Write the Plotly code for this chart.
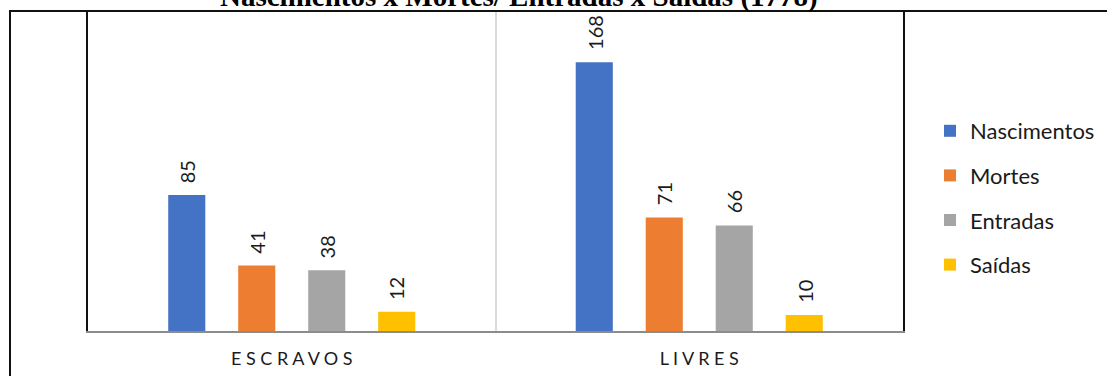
import plotly.graph_objects as go

# Population groups and event counts for 1778
groups = ["ESCRAVOS", "LIVRES"]
series_names = ["Nascimentos", "Mortes", "Entradas", "Saídas"]
nascimentos = [85, 168]
mortes = [41, 71]
entradas = [38, 66]
saidas = [12, 10]
series_values = [nascimentos, mortes, entradas, saidas]
colors = ["#4472C4", "#ED7D31", "#A5A5A5", "#FFC000"]
group_ticks = ["E S C R A V O S", "L I V R E S"]
title_text = "Nascimentos x Mortes/ Entradas x Saídas (1778)"

W, H = 1107, 376
L, R, T, B = 88, 204, 11, 45
BARGAP = 0.313
plot_w = W - L - R
plot_h = H - T - B

def px_x(p):
    return (p - L) / plot_w

def px_y(p):
    return (H - B - p) / plot_h

fig = go.Figure()
for i, (name, vals, col) in enumerate(zip(series_names, series_values, colors)):
    fig.add_trace(go.Bar(
        name=name, x=groups, y=vals, marker=dict(color=col, line=dict(width=0)),
        legendgroup=name, hoverinfo="x+y+name",
    ))

# Value labels, rotated, above each bar
slot = (1 - BARGAP) / len(series_names)
for i, vals in enumerate(series_values):
    for g, v in enumerate(vals):
        fig.add_annotation(
            x=g + (i - (len(series_names) - 1) / 2) * slot, y=v, xref="x", yref="y",
            text=str(v), textangle=-90, showarrow=False,
            yanchor="bottom", xanchor="center", yshift=10,
            font=dict(family="Lato", size=20, color="#1a1a1a"),
        )

# Title (sits above the frame, partly outside the page)
fig.add_annotation(
    x=px_x(519), y=px_y(15), xref="paper", yref="paper",
    text="<b>" + title_text + "</b>", showarrow=False,
    xanchor="center", yanchor="bottom",
    font=dict(family="Liberation Serif", size=29, color="#000000"),
)

# Outer frame lines
fig.add_shape(type="line", xref="paper", yref="paper",
              x0=px_x(9), x1=px_x(W + 5), y0=1, y1=1,
              line=dict(color="#111111", width=2))
fig.add_shape(type="line", xref="paper", yref="paper",
              x0=px_x(10), x1=px_x(10), y0=1, y1=px_y(H + 5),
              line=dict(color="#111111", width=2))

fig.update_layout(
    width=W, height=H,
    margin=dict(l=L, r=R, t=T, b=B, pad=0, autoexpand=False),
    paper_bgcolor="white", plot_bgcolor="white",
    barmode="group", bargap=BARGAP, bargroupgap=0.47,
    showlegend=True,
    legend=dict(
        x=px_x(930), y=px_y(110), xanchor="left", yanchor="top",
        font=dict(family="Lato", size=22, color="#1a1a1a"),
        traceorder="grouped", tracegroupgap=13,
        bgcolor="rgba(0,0,0,0)",
    ),
    xaxis=dict(
        tickmode="array", tickvals=groups, ticktext=group_ticks,
        tickson="boundaries", ticks="", showgrid=True,
        gridcolor="#d9d9d9", gridwidth=2,
        showline=True, linecolor="#8c8c8c", linewidth=2,
        tickfont=dict(family="Lato", size=18, color="#1a1a1a"),
        ticklabelstandoff=10,
        fixedrange=True, automargin=False,
    ),
    yaxis=dict(
        range=[0, 200], showgrid=False, showticklabels=False, ticks="",
        zeroline=False, showline=True, mirror=True,
        linecolor="#111111", linewidth=2, fixedrange=True, automargin=False,
    ),
)

fig.write_html("out.html")
